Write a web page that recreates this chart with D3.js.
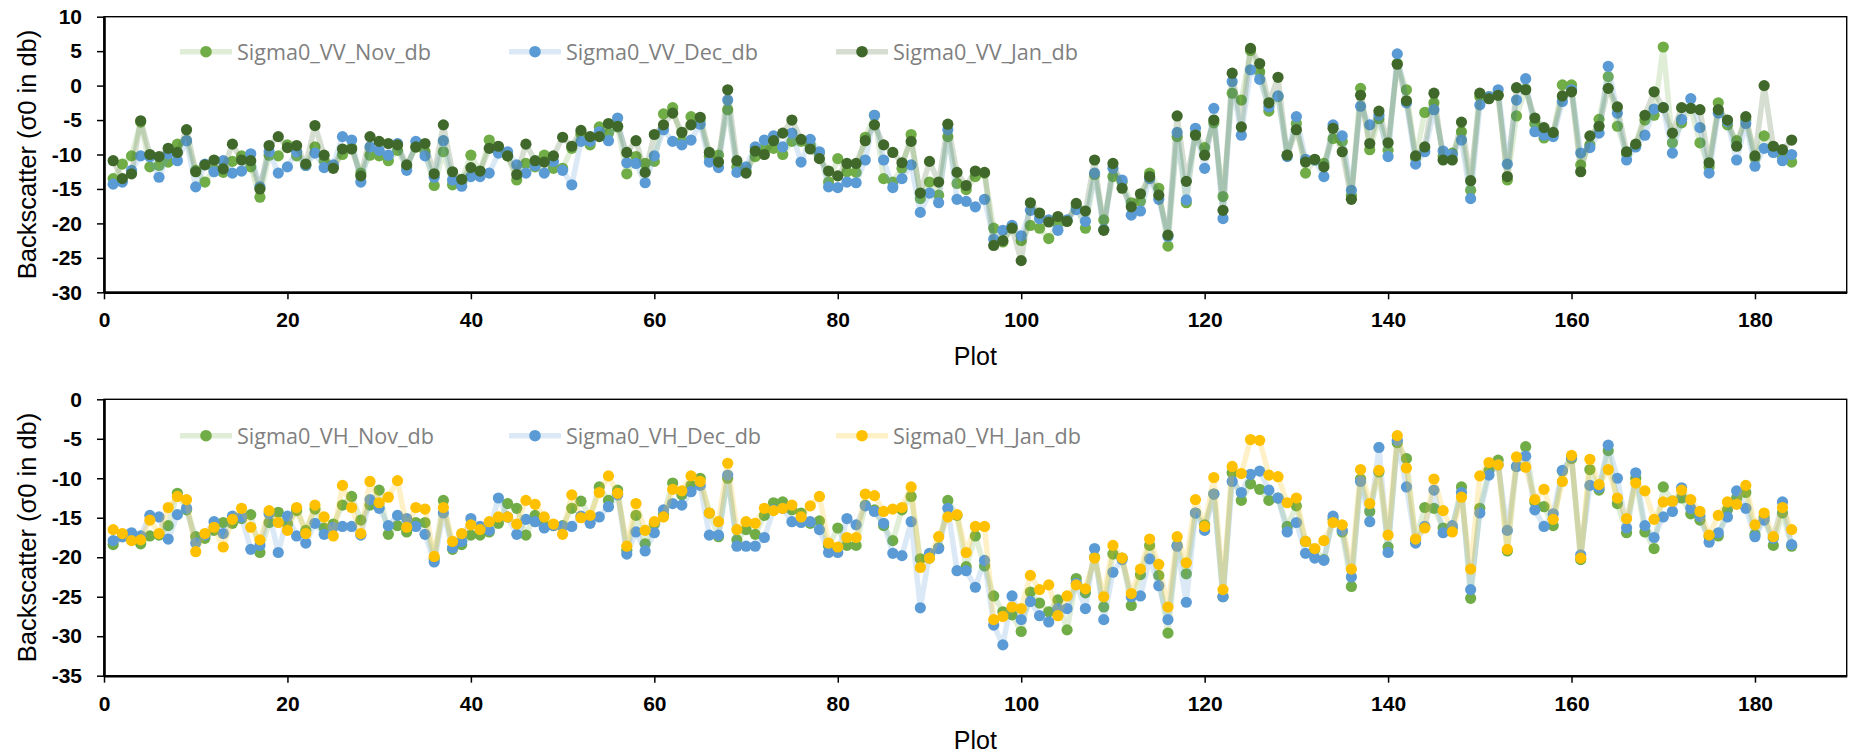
<!DOCTYPE html>
<html><head><meta charset="utf-8">
<script src="https://cdn.jsdelivr.net/npm/d3@7"></script>
<style>body{margin:0;background:#fff}svg{display:block}</style>
</head><body>
<svg id="c" width="1851" height="755"></svg>
<script>
// ---------- DATA ----------
const plots = Array.from({length: 184}, (_, i) => i + 1);

const vvNov = [
-13.5,-11.4,-10.2,-5.3,-11.8,-11.6,-11.1,-8.5,-8.0,-12.3,-14.0,-12.2,-12.6,-11.0,-10.2,-11.8,-16.2,-10.1,-10.2,-8.6,
-10.2,-11.6,-8.9,-10.9,-11.8,-10.0,-9.0,-12.7,-10.1,-10.2,-10.9,-9.4,-11.8,-8.9,-9.6,-14.5,-9.6,-14.4,-13.8,-10.1,
-12.5,-7.9,-8.9,-10.2,-13.7,-11.3,-11.8,-10.1,-12.0,-12.0,-9.1,-7.0,-8.6,-6.0,-6.9,-6.0,-12.8,-10.3,-11.3,-11.0,
-4.1,-3.2,-8.1,-4.5,-5.0,-10.3,-10.1,-3.5,-11.8,-12.4,-10.3,-9.1,-9.1,-10.0,-8.1,-8.1,-8.6,-9.8,-14.0,-10.6,
-12.5,-12.6,-7.5,-4.3,-13.5,-14.0,-12.0,-7.1,-16.4,-14.0,-15.9,-7.4,-14.2,-15.1,-13.2,-12.7,-20.7,-22.7,-20.5,-22.5,
-20.3,-20.7,-22.2,-20.0,-19.7,-17.6,-20.7,-12.9,-19.5,-13.2,-14.0,-17.0,-16.8,-12.7,-14.9,-23.3,-7.4,-17.0,-7.0,-9.0,
-5.4,-16.1,-1.1,-2.1,5.1,2.0,-3.7,-1.6,-10.1,-5.5,-12.7,-10.8,-11.3,-7.7,-8.1,-15.9,-0.4,-9.3,-4.8,-9.4,
3.2,-0.6,-10.5,-3.9,-2.5,-10.2,-9.8,-6.7,-15.2,-1.6,-1.6,-1.4,-13.7,-4.4,-0.5,-5.5,-7.6,-7.0,0.1,0.1,
-11.5,-8.6,-4.9,1.3,-5.9,-9.9,-8.7,-5.0,-4.3,5.6,-8.3,-5.4,-3.3,-8.3,-11.8,-2.5,-5.7,-8.0,-5.0,-10.5,
-7.3,-8.9,-10.3,-11.1];

const vvDec = [
-14.3,-14.0,-12.3,-10.2,-10.3,-13.3,-9.9,-10.9,-8.0,-14.7,-11.4,-12.5,-10.9,-12.7,-12.4,-9.9,-14.7,-9.6,-12.7,-11.8,
-9.6,-11.6,-9.8,-11.9,-11.5,-7.4,-7.9,-14.0,-8.9,-9.4,-10.1,-8.4,-12.3,-8.1,-10.2,-13.3,-8.0,-13.7,-14.6,-13.2,
-13.2,-12.7,-9.8,-9.6,-11.5,-12.7,-11.6,-12.7,-11.0,-12.3,-14.4,-8.1,-8.1,-6.7,-8.0,-4.7,-11.2,-11.3,-14.1,-10.2,
-6.4,-8.1,-8.6,-7.9,-5.6,-11.1,-11.9,-2.1,-12.6,-11.8,-8.9,-7.9,-7.3,-8.9,-6.9,-11.1,-7.8,-9.6,-14.7,-14.8,
-14.0,-14.1,-10.8,-4.3,-10.8,-14.8,-13.5,-11.5,-18.4,-15.6,-17.0,-6.4,-16.5,-16.8,-17.6,-16.5,-22.3,-21.0,-20.3,-21.8,
-18.1,-19.3,-19.5,-21.0,-19.5,-18.0,-19.7,-12.7,-20.9,-12.0,-13.7,-18.8,-18.2,-13.5,-16.5,-21.9,-6.8,-16.6,-6.2,-12.0,
-3.3,-19.3,0.6,-7.2,2.3,0.9,-3.1,-1.5,-10.3,-4.5,-10.7,-10.8,-13.2,-5.7,-7.3,-15.2,-3.0,-5.7,-4.3,-10.3,
4.6,-2.5,-11.4,-9.6,-3.5,-9.5,-10.0,-7.9,-16.4,-2.8,-1.6,-0.6,-11.4,-2.1,1.0,-6.7,-7.2,-7.4,-2.3,-0.6,
-9.8,-9.0,-6.9,2.8,-4.0,-10.8,-8.9,-7.2,-3.4,-3.2,-9.8,-4.9,-1.9,-6.1,-12.7,-4.0,-5.2,-10.8,-5.5,-11.7,
-9.1,-9.7,-10.9,-10.0];

const vvJan = [
-10.9,-13.5,-12.8,-5.1,-10.0,-10.3,-9.1,-9.7,-6.4,-12.5,-11.5,-10.8,-12.1,-8.5,-10.8,-10.9,-15.0,-8.7,-7.4,-9.0,
-8.7,-11.4,-5.8,-10.1,-12.0,-9.2,-9.2,-13.1,-7.4,-8.1,-8.4,-8.6,-11.5,-8.9,-8.4,-12.8,-5.7,-12.5,-13.6,-11.9,
-12.4,-9.1,-8.8,-10.2,-12.9,-8.5,-10.9,-11.1,-10.2,-7.5,-8.8,-6.5,-7.4,-7.4,-5.5,-5.9,-9.7,-8.0,-12.6,-7.1,
-5.7,-4.0,-6.8,-5.7,-4.6,-9.7,-11.1,-0.6,-10.9,-12.7,-9.5,-10.0,-8.0,-6.9,-5.0,-7.8,-9.2,-10.6,-12.4,-13.1,
-11.3,-11.3,-8.0,-5.7,-8.6,-9.7,-11.2,-8.1,-15.6,-11.0,-14.0,-5.6,-12.6,-14.5,-12.4,-12.6,-23.2,-22.5,-20.7,-25.4,
-17.0,-18.5,-19.8,-19.0,-19.7,-17.1,-18.2,-10.8,-21.0,-11.3,-14.9,-17.6,-15.7,-13.2,-15.9,-21.7,-4.4,-13.9,-7.2,-10.1,
-5.0,-18.1,1.8,-6.0,5.4,3.2,-2.5,1.2,-10.1,-6.4,-11.1,-10.7,-11.8,-6.2,-9.6,-16.5,-1.4,-8.4,-3.7,-8.3,
3.1,-2.2,-10.2,-8.9,-1.1,-10.8,-10.8,-5.3,-13.8,-1.1,-1.9,-1.4,-13.2,-0.3,-0.6,-4.7,-6.1,-6.8,-1.5,-0.9,
-12.5,-7.3,-5.9,-0.4,-3.1,-9.6,-8.5,-4.3,-0.9,-3.2,-6.9,-3.2,-3.3,-3.5,-11.2,-3.5,-5.0,-8.8,-4.5,-10.2,
0.0,-8.8,-9.3,-7.9];

const vhNov = [
-18.4,-17.4,-17.5,-18.3,-17.3,-17.2,-16.0,-11.9,-14.0,-17.4,-17.6,-16.6,-15.6,-15.7,-15.1,-14.6,-19.4,-15.6,-14.3,-15.8,
-14.1,-16.6,-13.9,-16.3,-15.8,-13.4,-12.3,-15.3,-13.4,-11.5,-17.1,-16.0,-16.8,-15.6,-15.6,-20.2,-12.8,-19.0,-18.4,-17.2,
-17.2,-16.8,-15.7,-13.2,-13.8,-17.2,-14.7,-15.9,-16.0,-16.0,-13.8,-12.9,-14.9,-11.1,-12.8,-11.5,-19.1,-14.7,-18.3,-15.8,
-14.6,-10.6,-12.1,-10.9,-10.0,-14.4,-17.4,-10.0,-17.8,-16.5,-17.1,-14.7,-13.1,-13.0,-14.0,-14.4,-15.7,-15.4,-18.6,-16.3,
-18.5,-18.5,-13.4,-14.0,-16.0,-17.9,-14.0,-12.3,-20.2,-20.1,-18.8,-12.8,-14.7,-21.2,-17.3,-21.1,-24.9,-26.9,-27.3,-29.4,
-24.4,-25.8,-26.9,-25.4,-29.2,-22.7,-24.5,-20.0,-26.3,-19.6,-20.1,-26.1,-22.2,-18.5,-22.3,-29.6,-18.5,-22.1,-14.4,-15.9,
-12.0,-25.0,-9.3,-12.8,-10.7,-11.4,-12.8,-12.5,-16.1,-13.5,-18.0,-19.0,-20.3,-15.2,-16.8,-23.7,-10.1,-14.2,-9.2,-18.7,
-5.5,-7.5,-17.8,-13.7,-13.8,-16.3,-16.3,-11.1,-25.2,-13.8,-9.0,-7.7,-19.2,-8.5,-6.0,-13.0,-13.6,-16.0,-9.1,-7.5,
-20.3,-8.9,-11.5,-6.5,-13.2,-16.9,-10.0,-16.8,-18.9,-11.1,-12.9,-12.5,-14.5,-15.3,-17.4,-17.3,-14.0,-12.5,-11.8,-17.1,
-14.9,-18.5,-14.4,-18.6];

const vhDec = [
-17.9,-17.4,-16.9,-17.3,-14.7,-14.9,-17.7,-14.6,-13.8,-18.2,-17.2,-15.5,-17.0,-14.8,-14.9,-19.0,-18.5,-14.5,-19.4,-14.8,
-17.3,-18.2,-15.7,-17.1,-16.2,-16.1,-16.1,-17.2,-12.7,-13.8,-16.0,-14.7,-15.1,-16.1,-17.1,-20.6,-14.4,-18.8,-18.0,-15.1,
-16.1,-16.6,-12.5,-14.9,-17.1,-15.2,-15.5,-16.3,-16.0,-16.1,-16.1,-14.8,-15.7,-14.9,-13.6,-12.1,-19.6,-16.8,-19.2,-16.9,
-14.0,-13.2,-13.4,-11.7,-10.9,-17.2,-17.2,-9.6,-18.6,-18.6,-18.6,-17.5,-14.0,-13.8,-15.5,-15.6,-15.5,-16.5,-19.4,-19.4,
-15.1,-15.9,-13.5,-14.2,-15.7,-19.5,-19.8,-15.5,-26.4,-19.5,-18.9,-13.8,-21.7,-21.7,-23.8,-20.4,-28.6,-31.1,-24.9,-27.9,
-25.6,-27.4,-28.2,-26.5,-26.5,-23.3,-26.5,-18.9,-27.9,-21.9,-20.3,-25.0,-24.9,-20.2,-23.6,-27.9,-18.6,-25.7,-14.4,-16.6,
-12.0,-25.0,-10.4,-11.8,-9.5,-9.1,-11.5,-12.5,-16.8,-15.6,-19.5,-20.1,-20.4,-14.8,-16.6,-22.5,-10.4,-15.5,-6.1,-19.4,
-5.2,-11.1,-18.2,-16.1,-11.5,-16.9,-16.0,-11.8,-24.1,-14.4,-9.6,-8.3,-16.6,-8.5,-7.2,-14.0,-16.1,-14.5,-9.0,-7.3,
-19.7,-10.9,-11.2,-5.8,-10.0,-16.3,-9.3,-16.0,-17.5,-14.9,-14.2,-11.2,-13.8,-14.8,-18.1,-16.9,-14.9,-11.6,-13.8,-17.4,
-15.3,-17.6,-13.0,-18.4];

const vhJan = [
-16.5,-17.0,-17.9,-17.8,-15.3,-17.0,-13.7,-12.3,-12.7,-19.3,-17.0,-16.2,-18.7,-15.2,-13.8,-16.2,-17.8,-14.1,-15.6,-16.6,
-13.7,-17.0,-13.4,-14.9,-17.3,-10.9,-13.7,-17.0,-10.4,-13.1,-12.4,-10.3,-16.2,-13.7,-13.9,-19.9,-13.7,-18.0,-17.0,-15.9,
-16.5,-15.5,-14.9,-14.9,-15.8,-12.8,-13.3,-14.9,-15.8,-17.1,-12.1,-15.0,-14.7,-11.8,-9.7,-11.9,-18.6,-13.2,-16.6,-15.5,
-14.9,-11.4,-11.6,-9.7,-10.4,-14.4,-15.5,-8.1,-16.5,-15.5,-15.7,-13.8,-14.1,-13.8,-13.4,-14.9,-13.5,-12.3,-18.2,-18.7,
-17.5,-17.5,-12.0,-12.2,-14.2,-13.9,-13.7,-11.1,-21.3,-20.1,-17.4,-14.9,-14.6,-19.4,-16.1,-16.1,-27.9,-27.5,-26.3,-26.5,
-22.3,-24.1,-23.5,-27.4,-24.9,-23.5,-24.0,-20.1,-25.0,-18.5,-20.1,-24.6,-21.5,-17.7,-20.9,-26.3,-17.4,-20.7,-12.7,-16.1,
-9.9,-24.1,-8.5,-9.4,-5.1,-5.2,-9.6,-9.8,-13.1,-12.5,-18.0,-18.9,-17.9,-15.6,-15.9,-21.5,-8.9,-13.2,-9.0,-17.2,
-4.6,-8.7,-17.7,-16.3,-10.1,-14.1,-16.8,-12.4,-21.5,-9.7,-8.0,-8.3,-19.0,-7.3,-8.6,-12.7,-11.4,-15.2,-10.4,-7.1,
-20.1,-7.6,-10.8,-8.9,-12.5,-15.1,-10.6,-11.6,-15.2,-13.0,-12.9,-11.5,-12.7,-14.2,-17.2,-14.7,-13.0,-13.3,-10.9,-15.9,
-14.4,-17.4,-13.7,-16.5];

const xTicksMajor = [0, 20, 40, 60, 80, 100, 120, 140, 160, 180];
const vvYTicks = [10, 5, 0, -5, -10, -15, -20, -25, -30];
const vhYTicks = [0, -5, -10, -15, -20, -25, -30, -35];
const vvNames = ["Sigma0_VV_Nov_db", "Sigma0_VV_Dec_db", "Sigma0_VV_Jan_db"];
const vhNames = ["Sigma0_VH_Nov_db", "Sigma0_VH_Dec_db", "Sigma0_VH_Jan_db"];

// ---------- STYLE ----------
const cNov = "#70AD47", cDec = "#5B9BD5", cJanVV = "#41682B", cJanVH = "#FFC000";
const svg = d3.select("#c");
const L = 104, R = 1846.7;
const x = d3.scaleLinear().domain([0, 190]).range([L, R]);
const axisFont = "'Liberation Sans', Arial, sans-serif";

function panel(top, bottom, yTicks, series, names, colors, legendY) {
  const ymax = d3.max(yTicks), ymin = d3.min(yTicks);
  const y = d3.scaleLinear().domain([ymin, ymax]).range([bottom, top]);
  const g = svg.append("g");

  // frame
  g.append("rect").attr("x", L).attr("y", top).attr("width", R - L).attr("height", bottom - top)
    .attr("fill", "none").attr("stroke", "#000").attr("stroke-width", 1.4);

  // series: line then markers, in series order
  const line = d3.line().x((d, i) => x(plots[i])).y(d => y(d));
  series.forEach((s, k) => {
    g.append("path").datum(s).attr("d", line).attr("fill", "none")
      .attr("stroke", colors[k]).attr("stroke-opacity", 0.22).attr("stroke-width", 5.5)
      .attr("stroke-linejoin", "round");
    g.append("g").selectAll("circle").data(s).join("circle")
      .attr("cx", (d, i) => x(plots[i])).attr("cy", d => y(d)).attr("r", 5.6)
      .attr("fill", colors[k]);
  });

  // y axis
  const ya = g.append("g").attr("transform", `translate(${L},0)`);
  ya.call(d3.axisLeft(y).tickValues(d3.range(ymin, ymax + 1, 1)).tickSize(4).tickSizeOuter(0).tickFormat(""));
  ya.call(d3.axisLeft(y).tickValues(yTicks).tickSize(7).tickSizeOuter(0).tickPadding(15).tickFormat(d => String(d)));
  ya.selectAll(".domain").attr("stroke-width", 2.6);
  ya.selectAll(".tick line").attr("stroke-width", 1.5);
  ya.selectAll("text").attr("font-family", axisFont).attr("font-size", 21).attr("font-weight", "bold").attr("fill", "#000");

  // x axis
  const xa = g.append("g").attr("transform", `translate(0,${bottom})`);
  xa.call(d3.axisBottom(x).tickValues(d3.range(0, 190, 4)).tickSize(4).tickSizeOuter(0).tickFormat(""));
  xa.call(d3.axisBottom(x).tickValues(xTicksMajor).tickSize(7).tickSizeOuter(0).tickPadding(13).tickFormat(d => String(d)));
  xa.selectAll(".domain").attr("stroke-width", 2.6);
  xa.selectAll(".tick line").attr("stroke-width", 1.5);
  xa.selectAll("text").attr("font-family", axisFont).attr("font-size", 21).attr("font-weight", "bold").attr("fill", "#000");

  // titles
  g.append("text").attr("transform", `translate(27,${(top + bottom) / 2}) rotate(-90)`)
    .attr("text-anchor", "middle").attr("dominant-baseline", "central")
    .attr("font-family", axisFont).attr("font-size", 25.5).attr("fill", "#000")
    .text("Backscatter (σ0 in db)");
  g.append("text").attr("x", (L + R) / 2).attr("y", bottom + 73)
    .attr("text-anchor", "middle").attr("font-family", axisFont).attr("font-size", 25).attr("fill", "#000")
    .text("Plot");

  // legend
  const lx = [180, 509, 836];
  names.forEach((n, k) => {
    const lg = g.append("g");
    lg.append("line").attr("x1", lx[k]).attr("x2", lx[k] + 52).attr("y1", legendY).attr("y2", legendY)
      .attr("stroke", colors[k]).attr("stroke-opacity", 0.22).attr("stroke-width", 5.5);
    lg.append("circle").attr("cx", lx[k] + 26).attr("cy", legendY).attr("r", 5.8).attr("fill", colors[k]);
    lg.append("text").attr("x", lx[k] + 57).attr("y", legendY).attr("dominant-baseline", "central")
      .attr("font-family", "'Open Sans', sans-serif").attr("font-size", 21.6).attr("fill", "#7f7f7f")
      .text(n);
  });
}

panel(16.7, 292.3, vvYTicks, [vvNov, vvDec, vvJan], vvNames, [cNov, cDec, cJanVV], 51.7);
panel(399.3, 675.7, vhYTicks, [vhNov, vhDec, vhJan], vhNames, [cNov, cDec, cJanVH], 435.7);
</script>
</body></html>
